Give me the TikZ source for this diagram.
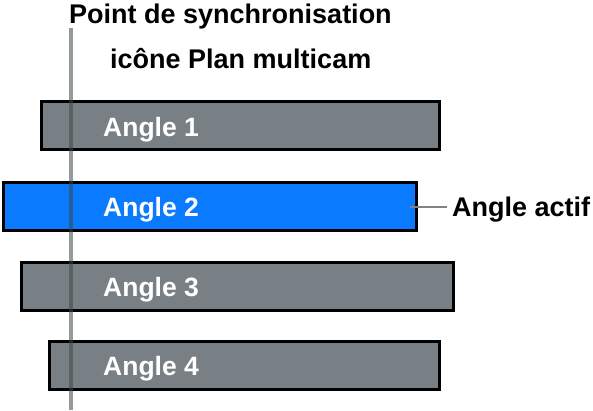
\documentclass[tikz,border=0pt]{standalone}
\usepackage{fontspec}
\setmainfont{Liberation Sans}
\usetikzlibrary{positioning,calc}
\definecolor{angleGray}{RGB}{120,128,134}
\definecolor{angleBlue}{RGB}{10,122,255}
\definecolor{syncGray}{RGB}{60,70,70}
\definecolor{pinGray}{RGB}{128,131,133}

\begin{document}
\begin{tikzpicture}[x=1pt,y=-1pt,
  anglebox/.style={draw=black,line width=2.8pt,fill=angleGray,minimum height=48pt,inner sep=0pt,outer sep=0pt,anchor=north west},
  anglelbl/.style={text=white,font=\bfseries\fontsize{26.5}{30}\selectfont,inner sep=0pt,anchor=base west},
  callout/.style={text=black,font=\bfseries\fontsize{27}{30}\selectfont,inner sep=0pt,anchor=base west}]
\useasboundingbox (0,0) rectangle (593,410);
% clips
\node[anglebox,minimum width=398pt] (a1) at (41.5,101.5) {};
\node[anglebox,minimum width=413pt,fill=angleBlue] (a2) at (3.5,182.5) {};
\node[anglebox,minimum width=432pt] (a3) at (21.5,262.5) {};
\node[anglebox,minimum width=390pt] (a4) at (49.5,341.5) {};
\node[anglelbl] (l1) at (103,136) {Angle 1};
\node[anglelbl] (l2) at (103,216) {Angle 2};
\node[anglelbl] (l3) at (103,296) {Angle 3};
\node[anglelbl] (l4) at (103,375) {Angle 4};
% sync point
\node[callout] (sync) at (69,23) {Point de synchronisation};
\node[callout] (icon) at (110,68) {icône Plan multicam};
\coordinate (synctop) at (71,28);
\coordinate (syncbot) at (71,410);
\draw[syncGray,line width=3.5pt,opacity=0.55] (synctop) -- (syncbot);
% active angle
\node[callout] (actif) at (452,216) {Angle actif};
\coordinate (pin) at (410,207);
\draw[pinGray,line width=2pt] (pin) -- ($(actif.west|-pin)+(-5,0)$);
\end{tikzpicture}
\end{document}
